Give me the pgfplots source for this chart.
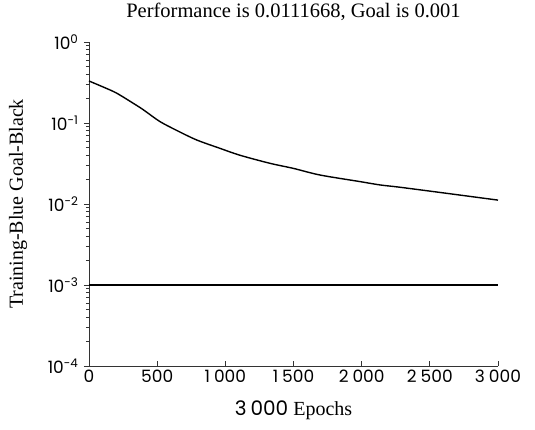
\documentclass[border=0pt]{standalone}
\usepackage{fontspec}
\setmainfont{Liberation Serif}
\newfontfamily\tickfont{Poppins}
\usepackage{pgfplots}
\pgfplotsset{compat=1.18}

\begin{document}
\begin{tikzpicture}
\useasboundingbox (-89pt,-64pt) rectangle (446pt,366pt);
\begin{axis}[
    scale only axis,
    width=409pt,
    height=324pt,
    ymode=log,
    xmin=0, xmax=3000,
    ymin=1e-4, ymax=1,
    axis lines*=left,
    axis line style={black!80, line width=0.9pt},
    xtick={0,500,1000,1500,2000,2500,3000},
    ytick={1e-4,1e-3,1e-2,1e-1,1},
    x tick style={black!80, line width=0.8pt},
    y tick style={black!80, line width=0.8pt},
    xtick align=inside,
    ytick align=outside,
    major tick length=5pt,
    minor tick length=3pt,
    /pgf/number format/assume math mode=true,
    /pgf/number format/1000 sep={\hspace{4pt}},
    tick label style={font=\tickfont\fontsize{17}{20}\selectfont},
    yticklabel={10\textsuperscript{\pgfmathparse{int(round(\tick/ln(10)))}\pgfmathresult}},
    yticklabel style={xshift=-2pt},
    title={Performance is 0.0111668, Goal is 0.001},
    title style={at={(axis description cs:0.5,1.074)}, anchor=center, font=\fontsize{20.5}{23}\selectfont},
    xlabel={{\tickfont 3\hspace{4pt}000} Epochs},
    xlabel style={at={(axis description cs:0.5,-0.136)}, anchor=center, font=\fontsize{20}{22}\selectfont},
    ylabel={Training-Blue Goal-Black},
    ylabel style={at={(axis description cs:-0.1736,0.5)}, anchor=center, rotate=0, font=\fontsize{20}{22}\selectfont},
    clip=false,
  ]
  \addplot[black, line width=1.4pt, smooth] coordinates {
    (0,0.33) (100,0.28) (200,0.235) (325,0.175) (400,0.145) (521,0.104)
    (650,0.08) (790,0.0617) (960,0.0487) (1107,0.040) (1327,0.0318)
    (1500,0.0275) (1694,0.0228) (1988,0.0189) (2134,0.0172) (2281,0.0161)
    (2623,0.01355) (3000,0.0111668)
  };
  \addplot[black, line width=1.3pt] coordinates {(0,0.001) (3000,0.001)};
\end{axis}
\end{tikzpicture}
\end{document}
